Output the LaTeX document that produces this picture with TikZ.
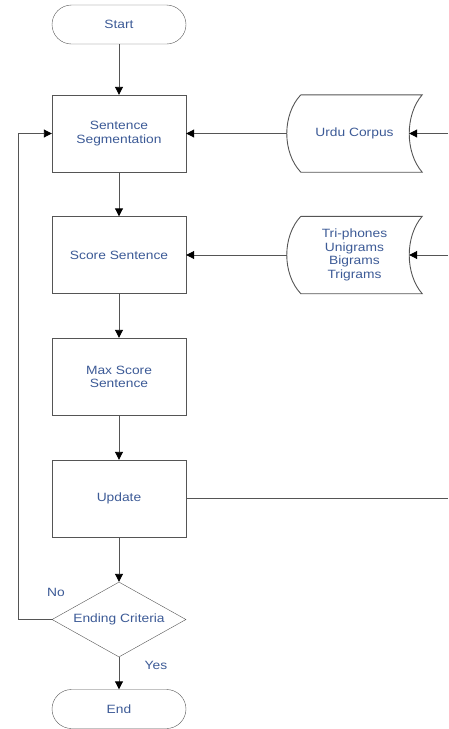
\documentclass[tikz,border=0pt]{standalone}
\usepackage{fontspec}
\setmainfont{Liberation Sans}[FakeStretch=1.15]
\usetikzlibrary{shapes,arrows,positioning,calc,arrows.meta}
\definecolor{txtblue}{RGB}{60,90,150}
\definecolor{linegray}{RGB}{85,85,85}

\tikzset{
    procbox/.style={draw=linegray, rectangle, minimum width=134pt, minimum height=77pt,
        inner sep=0pt, align=center, text=txtblue, font=\fontsize{12}{13.2}\selectfont},
    termbox/.style={draw=linegray, rectangle, rounded corners=19.5pt, minimum width=134pt,
        minimum height=39pt, inner sep=0pt, text=txtblue, font=\fontsize{12}{13.2}\selectfont},
    decbox/.style={draw=linegray, diamond, aspect=1.8, minimum width=134pt, minimum height=75pt,
        inner sep=0pt, text=txtblue, font=\fontsize{12}{13.2}\selectfont},
    databox/.style={rectangle, minimum width=135pt, minimum height=77pt, inner sep=0pt,
        align=center, text=txtblue, font=\fontsize{12}{13.5}\selectfont},
    lbl/.style={text=txtblue, font=\fontsize{12}{13.2}\selectfont},
    line/.style={draw=linegray, line width=0.9pt}
}

\begin{document}
\begin{tikzpicture}[x=1pt, y=-1pt, >={Triangle[length=8pt,width=8pt,color=black]}]
    \useasboundingbox (0,0) rectangle (448,729);

    % Main column
    \node[termbox] (start) at (119,24.5) {Start};
    \node[procbox] (seg) at (119,133.5) {Sentence\\Segmentation};
    \node[procbox] (score) at (119,255) {Score Sentence};
    \node[procbox] (maxscore) at (119,376.5) {Max Score\\Sentence};
    \node[procbox] (update) at (119,498.5) {Update};
    \node[decbox] (ending) at (119,619.5) {Ending Criteria};
    \node[termbox] (stop) at (119,709) {End};

    % Data sources
    \node[databox] (corpus) at (354.5,133.5) {Urdu Corpus};
    \node[databox] (grams) at (354.5,255) {Tri-phones\\Unigrams\\Bigrams\\Trigrams};
    \foreach \n in {corpus,grams}
        \draw[line] ($(\n.north west)+(14,0)$) -- (\n.north east)
            .. controls +(-17.3,20) and +(-17.3,-20) .. (\n.south east) -- ($(\n.south west)+(14,0)$)
            .. controls +(-18.7,-20) and +(-18.7,20) .. ($(\n.north west)+(14,0)$);

    \coordinate (corpusin) at ($(corpus.east)+(-13,0)$);
    \coordinate (gramsin) at ($(grams.east)+(-13,0)$);
    \coordinate (corpusfeed) at (448,133.5);
    \coordinate (gramsfeed) at (448,255);
    \coordinate (updatefeed) at (448,498.5);
    \coordinate (loop) at (18,619.5);

    % Connectors
    \draw[line,->] (start) -- (seg);
    \draw[line,->] (seg) -- (score);
    \draw[line,->] (score) -- (maxscore);
    \draw[line,->] (maxscore) -- (update);
    \draw[line,->] (update) -- (ending);
    \draw[line,->] (ending) -- (stop);
    \draw[line,->] (corpus.west) -- (seg.east);
    \draw[line,->] (grams.west) -- (score.east);
    \draw[line,->] (corpusfeed) -- (corpusin);
    \draw[line,->] (gramsfeed) -- (gramsin);
    \draw[line] (update.east) -- (updatefeed);
    \draw[line,->] (ending.west) -- (loop) |- (seg.west);

    \node[lbl] (nolbl) at (56,592) {No};
    \node[lbl] (yeslbl) at (156,665) {Yes};
\end{tikzpicture}
\end{document}
